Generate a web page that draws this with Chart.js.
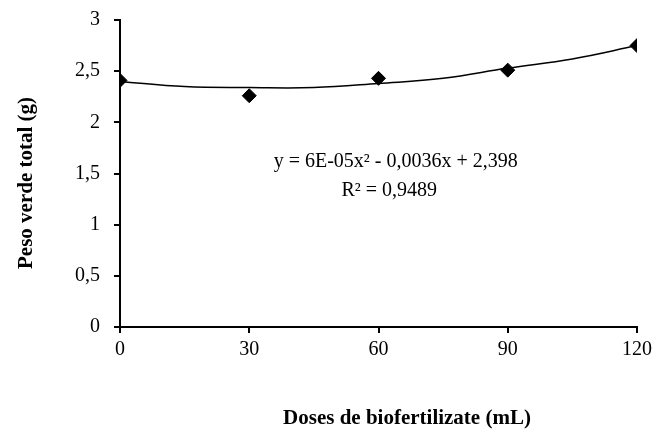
<!DOCTYPE html>
<html>
<head>
<meta charset="utf-8">
<script src="https://cdn.jsdelivr.net/npm/chart.js@4.4.0/dist/chart.umd.min.js"></script>
<style>
  html, body { margin: 0; padding: 0; background: #fff; }
  #wrap { width: 654px; height: 432px; }
</style>
</head>
<body>
<div id="wrap"><canvas id="myChart"></canvas></div>
<script>
// doses and measured values
const doses = [0, 30, 60, 90, 120];
const peso = [2.41, 2.26, 2.43, 2.51, 2.75];

// trend line
const trendX = [0, 15, 30, 45, 60, 75, 90, 105, 120];
const trendY = [2.40, 2.35, 2.34, 2.34, 2.38, 2.43, 2.53, 2.62, 2.75];

const xTicks = [0, 30, 60, 90, 120];
const yTicks = [0, 0.5, 1, 1.5, 2, 2.5, 3];

const xTitle = 'Doses de biofertilizate (mL)';
const yTitle = 'Peso verde total (g)';
const equation = ['y = 6E-05x² - 0,0036x + 2,398', 'R² = 0,9489'];

const serif = '"Liberation Serif", "Times New Roman", serif';

// equation and axis titles
const textPlugin = {
  id: 'texts',
  afterDatasetsDraw(chart) {
    const ctx = chart.ctx;
    const xs = chart.scales.x;
    const ys = chart.scales.y;
    ctx.save();
    ctx.fillStyle = '#000';
    ctx.textAlign = 'center';
    ctx.textBaseline = 'middle';
    ctx.font = '20px ' + serif;
    ctx.fillText(equation[0], xs.getPixelForValue(64), ys.getPixelForValue(1.61));
    ctx.fillText(equation[1], xs.getPixelForValue(62.5), ys.getPixelForValue(1.33));

    ctx.font = 'bold 21px ' + serif;
    ctx.fillText(xTitle, 407, 419);
    ctx.translate(27, 183);
    ctx.rotate(-Math.PI / 2);
    ctx.fillText(yTitle, 0, 0);
    ctx.restore();
  }
};

const trend = trendX.map((x, i) => ({ x: x, y: trendY[i] }));
const pts = doses.map((x, i) => ({ x: x, y: peso[i] }));

const ctx = document.getElementById('myChart').getContext('2d');
const myChart = new Chart(ctx, {
  type: 'scatter',
  data: {
    datasets: [
      {
        label: 'Tendência',
        data: trend,
        showLine: true,
        borderColor: '#000',
        borderWidth: 1.5,
        pointRadius: 0,
        tension: 0.4,
        fill: false,
      },
      {
        label: 'Peso verde total',
        data: pts,
        pointStyle: 'rectRot',
        pointRadius: 7,
        backgroundColor: '#000',
        borderColor: '#000',
        showLine: false,
      },
    ],
  },
  options: {
    responsive: true,
    maintainAspectRatio: false,
    animation: false,
    layout: { padding: { top: 20, right: 17, left: 0, bottom: 0 } },
    plugins: {
      legend: { display: false },
      tooltip: { enabled: false },
    },
    scales: {
      x: {
        type: 'linear',
        min: 0,
        max: 120,
        afterBuildTicks: (axis) => { axis.ticks = xTicks.map(v => ({ value: v })); },
        afterFit: (axis) => {
          axis.height = 105;
          axis.paddingLeft = 0;
          axis.paddingRight = 0;
        },
        grid: { drawOnChartArea: false, drawTicks: true, tickLength: 6, color: '#000', lineWidth: 2 },
        border: { color: '#000', width: 2 },
        ticks: { color: '#000', font: { family: serif, size: 20 }, padding: 5, maxRotation: 0 },
      },
      y: {
        min: 0,
        max: 3,
        afterBuildTicks: (axis) => { axis.ticks = yTicks.map(v => ({ value: v })); },
        afterFit: (axis) => {
          axis.width = 120;
          axis.paddingTop = 0;
          axis.paddingBottom = 0;
        },
        grid: { drawOnChartArea: false, drawTicks: true, tickLength: 6, color: '#000', lineWidth: 2 },
        border: { color: '#000', width: 2 },
        ticks: {
          color: '#000',
          font: { family: serif, size: 20 },
          padding: 14,
          callback: (v) => String(v).replace('.', ','),
        },
      },
    },
  },
  plugins: [textPlugin],
});
</script>
</body>
</html>
